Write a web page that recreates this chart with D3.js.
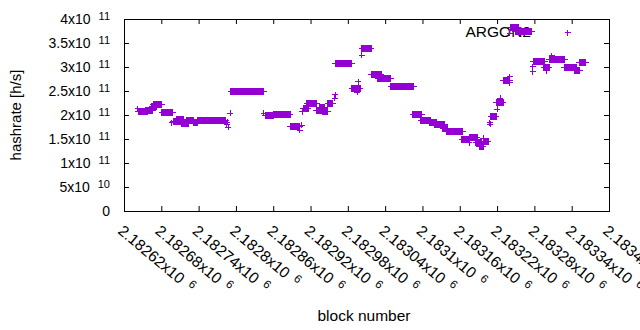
<!DOCTYPE html>
<html>
<head>
<meta charset="utf-8">
<script src="https://cdn.jsdelivr.net/npm/d3@7"></script>
<style>
    body { margin: 0; background: #fff; }
    text { font-family: "Liberation Sans", Arial, sans-serif; fill: #000; }
</style>
</head>
<body>
<div id="chart"></div>
<script>
// runs of blocks with the same hashrate (start == end is a single block)
const runStart = [
    2182642, 2182643, 2182655, 2182665, 2182667, 2182681, 2182697, 2182699, 2182705, 2182713,
    2182721, 2182731, 2182739, 2182785, 2182786, 2182788, 2182791, 2182792, 2182845, 2182847,
    2182860, 2182887, 2182903, 2182906, 2182907, 2182908, 2182914, 2182929, 2182934, 2182940,
    2182948, 2182959, 2182960, 2182960, 2182986, 2182995, 2182997, 2183002, 2183002, 2183018,
    2183028, 2183049, 2183084, 2183097, 2183112, 2183120, 2183133, 2183139, 2183163, 2183175,
    2183176, 2183186, 2183191, 2183198, 2183198, 2183208, 2183209, 2183210, 2183220, 2183219,
    2183225, 2183230, 2183240, 2183240, 2183240, 2183241, 2183249, 2183277, 2183277, 2183278,
    2183295, 2183300, 2183304, 2183308, 2183328, 2183345, 2183352
];
const runEnd = [
    2182642, 2182657, 2182666, 2182673, 2182681, 2182698, 2182697, 2182713, 2182715, 2182723,
    2182731, 2182739, 2182784, 2182785, 2182786, 2182788, 2182791, 2182845, 2182845, 2182860,
    2182887, 2182903, 2182903, 2182906, 2182907, 2182916, 2182930, 2182943, 2182943, 2182948,
    2182956, 2182959, 2182960, 2182986, 2183000, 2182995, 2182997, 2183002, 2183018, 2183034,
    2183049, 2183086, 2183099, 2183113, 2183123, 2183136, 2183140, 2183165, 2183174, 2183175,
    2183188, 2183195, 2183198, 2183198, 2183206, 2183208, 2183209, 2183219, 2183220, 2183230,
    2183225, 2183240, 2183240, 2183240, 2183240, 2183254, 2183276, 2183277, 2183277, 2183297,
    2183304, 2183300, 2183329, 2183308, 2183347, 2183353, 2183363
];
const runValue = [
    2.13e11, 2.07e11, 2.10e11, 2.18e11, 2.22e11, 2.06e11, 1.84e11, 1.86e11, 1.91e11, 1.83e11,
    1.89e11, 1.84e11, 1.89e11, 1.81e11, 1.85e11, 1.75e11, 2.04e11, 2.50e11, 2.04e11, 1.99e11,
    2.02e11, 1.76e11, 1.68e11, 1.79e11, 2.07e11, 2.13e11, 2.24e11, 2.10e11, 2.15e11, 2.08e11,
    2.24e11, 2.35e11, 2.42e11, 3.08e11, 2.56e11, 2.47e11, 2.69e11, 3.25e11, 3.39e11, 2.85e11,
    2.77e11, 2.59e11, 2.02e11, 1.89e11, 1.85e11, 1.81e11, 1.71e11, 1.66e11, 1.49e11, 1.42e11,
    1.54e11, 1.42e11, 1.35e11, 1.52e11, 1.44e11, 1.84e11, 1.81e11, 1.96e11, 2.12e11, 2.26e11,
    2.35e11, 2.72e11, 2.80e11, 2.67e11, 3.70e11, 3.83e11, 3.74e11, 3.01e11, 2.90e11, 3.11e11,
    2.99e11, 2.92e11, 3.16e11, 3.23e11, 3.00e11, 2.93e11, 3.09e11
];

const xTicks = [2182620, 2182680, 2182740, 2182800, 2182860, 2182920, 2182980,
                2183040, 2183100, 2183160, 2183220, 2183280, 2183340, 2183400];
const xTickLabels = ["2.18262", "2.18268", "2.18274", "2.1828", "2.18286", "2.18292", "2.18298",
                     "2.18304", "2.1831", "2.18316", "2.18322", "2.18328", "2.18334", "2.1834"];
const xTickExponent = "6";

const yTicks = [0, 5e10, 1e11, 1.5e11, 2e11, 2.5e11, 3e11, 3.5e11, 4e11];
const yTickMantissa = ["0", "5", "1", "1.5", "2", "2.5", "3", "3.5", "4"];
const yTickExponent = ["", "10", "11", "11", "11", "11", "11", "11", "11"];

const seriesName = "ARGON2";
const xTitle = "block number";
const yTitle = "hashrate [h/s]";

const width = 640, height = 330;
const margin = { top: 19, right: 31, bottom: 119, left: 124 };
const innerW = width - margin.left - margin.right;
const innerH = height - margin.top - margin.bottom;
const color = "#9400d3";
const arm = 3;

const svg = d3.select("#chart").append("svg")
    .attr("width", width)
    .attr("height", height);

const x = d3.scaleLinear().domain([2182620, 2183400]).range([margin.left, margin.left + innerW]);
const y = d3.scaleLinear().domain([0, 4e11]).range([margin.top + innerH, margin.top]);

// ticks pointing inward on all four sides
function noDomain(g) { g.select(".domain").remove(); g.selectAll("text").remove(); }

svg.append("g").attr("transform", `translate(${margin.left},0)`)
    .call(d3.axisLeft(y).tickValues(yTicks).tickSize(-5).tickFormat("")).call(noDomain);
svg.append("g").attr("transform", `translate(${margin.left + innerW},0)`)
    .call(d3.axisRight(y).tickValues(yTicks).tickSize(-5).tickFormat("")).call(noDomain);
svg.append("g").attr("transform", `translate(0,${margin.top + innerH})`)
    .call(d3.axisBottom(x).tickValues(xTicks).tickSize(-5).tickFormat("")).call(noDomain);
svg.append("g").attr("transform", `translate(0,${margin.top})`)
    .call(d3.axisTop(x).tickValues(xTicks).tickSize(-5).tickFormat("")).call(noDomain);

svg.append("rect")
    .attr("x", margin.left + 0.5).attr("y", margin.top + 0.5)
    .attr("width", innerW).attr("height", innerH)
    .attr("fill", "none").attr("stroke", "#000");

// y tick labels, "4x10" with raised exponent
const yLab = svg.append("g").selectAll("text")
    .data(yTicks.map((v, i) => ({ v: v, m: yTickMantissa[i], e: yTickExponent[i] })))
    .join("text")
    .attr("x", margin.left - 14)
    .attr("y", d => y(d.v) + 5)
    .attr("text-anchor", "end")
    .style("font-size", "14px");
yLab.append("tspan").text(d => d.e ? d.m + "x10" : d.m);
yLab.filter(d => d.e !== "")
    .append("tspan")
    .attr("dx", 8).attr("dy", -4.5)
    .style("font-size", "11px")
    .text(d => d.e);

// x tick labels, slanted down to the right
const xLab = svg.append("g").selectAll("text")
    .data(xTicks.map((v, i) => ({ v: v, m: xTickLabels[i] })))
    .join("text")
    .attr("transform", d => `translate(${x(d.v) - 7},232.5) rotate(40)`)
    .style("font-size", "15.5px");
xLab.append("tspan").text(d => d.m + "x10");
xLab.append("tspan")
    .attr("dx", 7).attr("dy", -5)
    .style("font-size", "11.5px")
    .text(xTickExponent);

svg.append("text")
    .attr("x", 364).attr("y", 321)
    .attr("text-anchor", "middle")
    .style("font-size", "15.5px")
    .text(xTitle);

svg.append("text")
    .attr("transform", `translate(21,${margin.top + innerH / 2}) rotate(-90)`)
    .attr("text-anchor", "middle")
    .style("font-size", "15px")
    .text(yTitle);

// key
svg.append("text")
    .attr("x", 531).attr("y", 37)
    .attr("text-anchor", "end")
    .style("font-size", "15.5px")
    .text(seriesName);
svg.append("path")
    .attr("d", `M${567.5 - arm},32.5H${567.5 + arm}M567.5,${32.5 - arm}V${32.5 + arm}`)
    .attr("stroke", color).attr("fill", "none")
    .attr("shape-rendering", "crispEdges");

// one "+" per block: a run of them merges into a filled band with arms at its ends
const runs = runStart.map((s, i) => ({ start: s, end: runEnd[i], value: runValue[i] }));

svg.append("g")
    .attr("fill", color)
    .attr("stroke", color)
    .attr("stroke-width", 1)
    .attr("shape-rendering", "crispEdges")
    .selectAll("path")
    .data(runs)
    .join("path")
    .attr("d", d => {
        const x0 = x(d.start), x1 = x(d.end), yy = y(d.value);
        return `M${x0},${yy - arm}H${x1}V${yy + arm}H${x0}Z` +
               `M${x0 - arm},${yy}H${x1 + arm}`;
    });
</script>
</body>
</html>
